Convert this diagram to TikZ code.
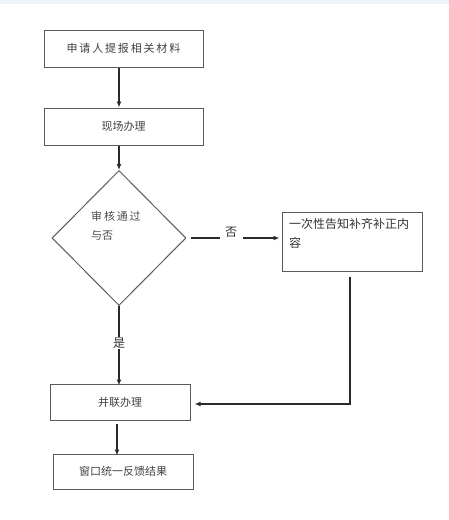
\documentclass[tikz,border=0pt]{standalone}
\usepackage{fontspec}
\setmainfont{Noto Sans CJK SC}
\usetikzlibrary{shapes.geometric,arrows.meta}
\definecolor{boxline}{HTML}{5A5A5A}
\definecolor{arrowline}{HTML}{2A2A2A}
\definecolor{topband}{HTML}{EEF3F8}
\begin{document}
\begin{tikzpicture}[x=1pt,y=-1pt,
  box/.style={draw=boxline,line width=1pt,rectangle,inner sep=0pt,font=\fontsize{11}{13}\selectfont,text=black!75},
  flow/.style={draw=arrowline,line width=1.2pt,-{Latex[length=6pt,width=5pt]}},
  plain/.style={draw=arrowline,line width=1.2pt},
  lab/.style={inner sep=1pt,font=\fontsize{12}{14}\selectfont,text=black!80}]
\useasboundingbox (0,0) rectangle (449,520);
\fill[topband] (0,0) rectangle (449,4);
\node[box,minimum width=159pt,minimum height=37pt] (b1) at (123.5,48.5) {申\,请\,人\,提\,报\,相\,关\,材\,料};
\node[box,minimum width=159pt,minimum height=37pt] (b2) at (123.5,126.5) {现场办理};
\node[draw=boxline,line width=1pt,diamond,inner sep=0pt,minimum width=134pt,minimum height=135pt] (d) at (119,238) {};
\node[anchor=north west,inner sep=0pt,align=left,font=\fontsize{11}{19}\selectfont,text=black!70] (dt) at (91,211) {审\,核\,通\,过\\与否};
\node[box,minimum width=140pt,minimum height=59pt] (b3) at (352,241.5) {};
\node[anchor=north west,inner sep=0pt,align=left,font=\fontsize{12}{19}\selectfont,text=black!80] (b3t) at (289,218) {一次性告知补齐补正内\\容};
\node[box,minimum width=140pt,minimum height=36pt] (b4) at (120,402) {并联办理};
\node[box,minimum width=140pt,minimum height=35pt] (b5) at (123,471.5) {窗口统一反馈结果};
\node[lab] (no) at (231,232) {否};
\node[lab] (yes) at (119,343) {是};
\draw[flow] (b1.south -| d.north) -- (b2.north -| d.north);
\draw[flow] (b2.south -| d.north) -- (d.north);
\draw[plain] ([xshift=4pt]d.east) -- (220,238);
\draw[flow] (243,238) -- ([xshift=-2pt]b3.west |- d.east);
\draw[plain] (d.south) -- (yes.north -| d.south);
\draw[flow] (yes.south -| d.south) -- ([yshift=-2pt]b4.north -| d.south);
\draw[flow] ([yshift=-5pt]b3.south -| 350,0) |- ([xshift=4pt]b4.east |- 0,404);
\draw[flow] ([yshift=-3pt]b4.south -| 117,0) -- ([yshift=-2pt]b5.north -| 117,0);
\end{tikzpicture}
\end{document}
